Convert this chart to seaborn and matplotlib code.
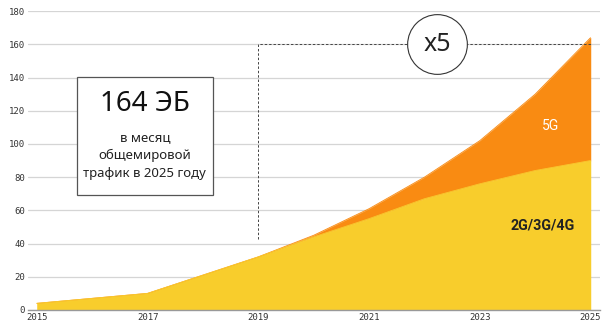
import matplotlib
matplotlib.use("Agg")
import matplotlib.pyplot as plt
import seaborn as sns
import pandas as pd
from matplotlib.patches import Rectangle

years = [2015, 2017, 2019, 2020, 2021, 2022, 2023, 2024, 2025]
legacy = [4, 10, 32, 44, 55, 67, 76, 84, 90]     # 2G/3G/4G
g5 = [0, 0, 0, 1, 6, 13, 26, 46, 74]              # 5G
tick_years = [2015, 2017, 2019, 2021, 2023, 2025]
y_ticks = [0, 20, 40, 60, 80, 100, 120, 140, 160, 180]

total = [a + b for a, b in zip(legacy, g5)]
df = pd.DataFrame({"year": years, "legacy": legacy, "total": total})

YELLOW = "#F8CD2C"
ORANGE = "#F98B12"

sns.set_theme(style="white")
plt.rcParams["font.family"] = ["Noto Sans", "DejaVu Sans"]

fig = plt.figure(figsize=(6.09, 3.28), dpi=100)
ax = fig.add_axes([0.046, 0.055, 0.94, 0.911])

sns.lineplot(data=df, x="year", y="total", ax=ax, color=ORANGE, lw=0.6, zorder=2)
sns.lineplot(data=df, x="year", y="legacy", ax=ax, color=YELLOW, lw=0.6, zorder=3)
ax.fill_between(df["year"], df["legacy"], df["total"], facecolor=ORANGE, edgecolor=ORANGE, lw=0.3, zorder=2.5)
ax.fill_between(df["year"], 0, df["legacy"], facecolor=YELLOW, edgecolor=YELLOW, lw=0.3, zorder=3.5)

ax.set_xlim(2014.84, 2025.18)
ax.set_ylim(0, 180)
ax.set_xticks(tick_years)
ax.set_yticks(y_ticks)
ax.set_xticklabels([str(t) for t in tick_years], family="DejaVu Sans Mono", fontsize=6.5, color="#333333")
ax.set_yticklabels([str(t) for t in y_ticks], family="DejaVu Sans Mono", fontsize=6.5, color="#333333")
ax.set_xlabel("")
ax.set_ylabel("")
ax.tick_params(axis="both", length=0, pad=2)
ax.yaxis.grid(True, color="#d5d5d5", lw=0.9, zorder=0)
ax.xaxis.grid(False)
for s in ["top", "right", "left"]:
    ax.spines[s].set_visible(False)
ax.spines["bottom"].set_color("#999999")
ax.spines["bottom"].set_linewidth(1.0)
ax.spines["bottom"].set_zorder(5)
ax.set_axisbelow(True)

# dashed bracket
ax.plot([2019, 2019, 2025], [43, 160, 160], ls=(0, (2.5, 2)), color="#444444", lw=0.7, zorder=4)
ax.plot([2022.23], [160], marker="o", markersize=43, mfc="white", mec="#333333", mew=0.8, zorder=6, clip_on=False)
ax.text(2022.23, 160, "x5", ha="center", va="center", fontsize=18, color="#222222", zorder=7)

# info box
ax.add_patch(Rectangle((2015.72, 69.5), 2.46, 71, fill=True, facecolor="white",
                       edgecolor="#555555", lw=0.9, zorder=6))
bx = 2016.95
ax.text(bx, 124, "164 ЭБ", ha="center", va="center", fontsize=20, color="#111111", zorder=7)
ax.text(bx, 104, "в месяц", ha="center", va="center", fontsize=9.5, color="#222222", zorder=7)
ax.text(bx, 93, "общемировой", ha="center", va="center", fontsize=9.5, color="#222222", zorder=7)
ax.text(bx, 82.5, "трафик в 2025 году", ha="center", va="center", fontsize=9.5, color="#222222", zorder=7)

ax.text(2024.28, 111, "5G", ha="center", va="center", fontsize=10, family=["Roboto", "DejaVu Sans"],
        color="white", zorder=7)
ax.text(2024.13, 51, "2G/3G/4G", ha="center", va="center", fontsize=10.3, family=["Roboto", "DejaVu Sans"],
        fontweight="bold", color="#222222", zorder=7)

fig.savefig("out.png", dpi=100)
